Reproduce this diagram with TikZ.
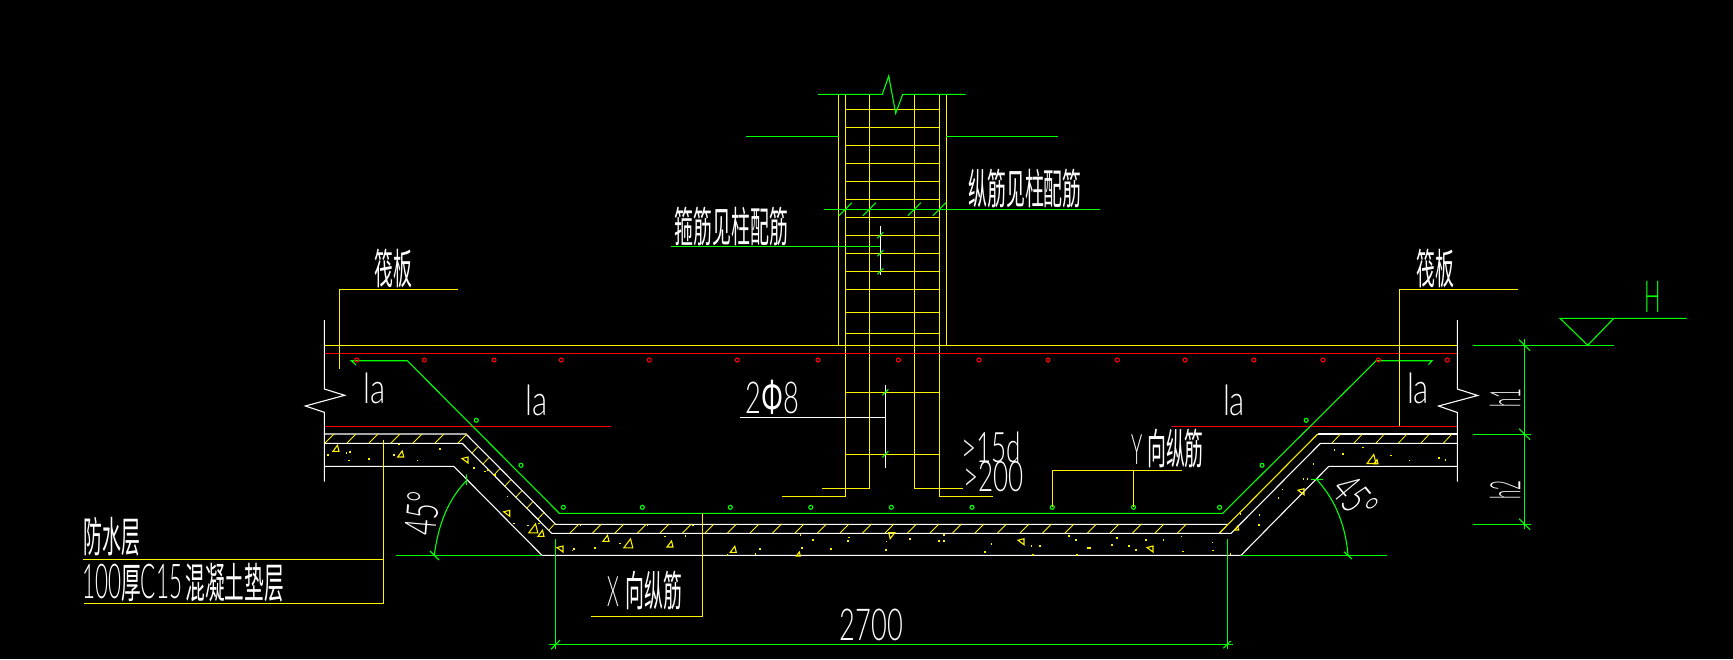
\documentclass[tikz,border=0pt]{standalone}
\usepackage{fontspec}
\newfontfamily\cjk{Noto Sans CJK SC}
\setsansfont{Lato}[UprightFont=* Light]
\tikzset{
  yellowline/.style={yellow,line width=.55pt},
  greenline/.style={green,line width=.55pt},
  whiteline/.style={white,line width=.55pt},
  redline/.style={red,line width=.55pt},
  cnlabel/.style={font=\cjk\fontsize{21}{21}\selectfont,xscale=.45,text=white,inner sep=0pt},
  latinlabel/.style={font=\sffamily\fontsize{#1}{#1}\selectfont,xscale=.62,text=white,inner sep=0pt},
}
\begin{document}
\begin{tikzpicture}[x=.5pt,y=-.5pt]
  \fill[black](0,0)rectangle(1733,659);
  % column
  \draw[yellowline](838.7,94.3)--(838.7,345)(946.3,94.3)--(946.3,345);
  \draw[yellowline](782,496.3)--(845.3,496.3)--(845.3,94.3);
  \draw[yellowline](992.7,496.3)--(939.3,496.3)--(939.3,94.3);
  \draw[yellowline](822,488.3)--(869.3,488.3)--(869.3,94.3);
  \draw[yellowline](962.7,488.3)--(914.3,488.3)--(914.3,94.3);
  \foreach \y in {109.3,127.3,145.3,163.3,181.3,199.3,217.3,235.3,253.3,271.3,289.3,312.3,333.3,392.3,454.3}
    \draw[yellowline](845.3,\y)--(939.3,\y);
  \draw[greenline](818,94.3)--(882.3,94.3)--(888.7,76)--(895.7,113.3)--(902.7,94.3)--(965.7,94.3);
  \draw[greenline](746,136.3)--(838.7,136.3)(946.3,136.3)--(1057.7,136.3);
  \draw[greenline](824,209.3)--(1100,209.3);
  \foreach \x in {845.3,869.3,914.3,939.3}
    \draw[greenline](\x-6.5,209.3+6.5)--(\x+6.5,209.3-6.5);
  \draw[greenline](671,246.3)--(880.3,246.3);
  \draw[whiteline](880.3,226)--(880.3,275);
  \foreach \y in {235.3,253.3,271.3}
    \draw[greenline](880.3-3,\y+3)--(880.3+3,\y-3);
  \draw[whiteline](740,417.3)--(885.3,417.3);
  \draw[whiteline](885.3,385)--(885.3,467.7);
  \foreach \y in {392.3,454.3}
    \draw[greenline](885.3-3,\y+3)--(885.3+3,\y-3);
  % raft
  \draw[yellowline](324.3,345.3)--(1457.3,345.3);
  \draw[redline](324.3,353.3)--(1457.3,353.3);
  \draw[redline](324.3,426.3)--(610.7,426.3)(1171.5,426.3)--(1457.3,426.3);
  \draw[whiteline](324.3,320)--(324.3,389)--(344.7,395.3)--(305.3,406)--(324.3,412.3)--(324.3,481.7);
  \draw[whiteline](1457.3,320)--(1457.3,389)--(1477.7,395.5)--(1438.5,406)--(1457.3,412.5)--(1457.3,481.7);
  % cushion and waterproof layer
  \draw[whiteline](324.3,434)--(466,434)--(555.7,524.3)--(1228,524.3);
  \draw[whiteline](1317.7,434)--(1457.3,434);
  \draw[yellowline](1219.2,533.3)--(1317.7,434);
  \draw[whiteline](324.3,443.3)--(462.3,443.3)--(551.7,533.3)--(1231,533.3)--(1320.4,443.3)--(1457.3,443.3);
  \draw[whiteline](324.3,466.3)--(453.7,466.3)--(542,555.3)--(1241,555.3)--(1328.8,466.3)--(1457.3,466.3);
  \foreach \x in {325,347,369,391,413,435,458,570,592.5,...,1198}
    \draw[yellowline,line width=.4pt](\x,\ifdim\x pt<500pt 443\else 533\fi)--++(9,-9);
  \foreach \x in {1332,1354,1376,1398.5,1421,1443.5}
    \draw[yellowline,line width=.4pt](\x,443)--++(8.5,-9);
  \foreach \i in {0,...,7}
    \draw[yellowline,line width=.4pt](471.7+11*\i,453.3+11*\i)--++(6,-6.5);
  % aggregate
  \foreach \a/\b/\r/\s in {336/448.3/0/3,400.7/454/0/3,465/460/90/3,506.7/513.3/90/3,533.3/528.3/0/4.5,541/533.3/0/3,560/549/90/3,606/538.3/0/3,628.3/543.3/0/4.5,670/544/0/3,733.3/549.3/0/3,798.3/554/0/2,891.7/535.7/180/3,1021/541.7/90/3,1150/549/90/3,1371.5/459/0/4.5,1376/461.7/0/2,1301/491.7/90/3,1236.7/528/0/2}
    \draw[yellowline,rotate around={\r:(\a,\b)}](\a-\s,\b+\s)--(\a+\s,\b+\s)--(\a+.5*\s,\b-\s)--cycle;
  \foreach \a/\b in {142/643,198/637,208/634,205/660,265/655,340/643,355/612,410/660,478/625,580/682,613/693,622/688,643/703,680/767,722/785,742/855,775/848,700/848,875/930,880/925,943/922,1018/908,1153/888,1214/886,900/855,1100/855,1237/855}
    \fill[yellow]({280+\a/3},{240+\b/3})rectangle++(1.2,1.2);
  \foreach \a/\b in {300/583,337/598,445/590,442/601,178/625,165/640,304/622,391/625,558/603,556/628,628/595,715/601,730/601,730/583,873/610,853/634,992/616,1018/616,1105/586,1126/598,1249/592,1234/613,1285/616,1306/628,1336/598,1162/622,1168/622,1129/643,997/643,80/643}
    \fill[yellow]({700+\a/3},{340+\b/3})rectangle++(1.2,1.2);
  \foreach \a/\b in {530/628,552/640,604/620,677/645,725/660,802/652,818/658,475/670,450/715,460/715,395/747,384/772,335/823,285/820,334/853,40/898,86/898,133/888,212/905,14/928,136/933,214/930,260/940}
    \fill[yellow]({1130+\a/2.6},{240+\b/3})rectangle++(1.2,1.2);
  % rebars
  \draw[greenline](356,365)--(351.3,360.7)--(407.3,360.7)--(559.3,513.3)--(1222.7,513.3)--(1376.2,360.7)--(1432,360.7)--(1428.5,364.7);
  \foreach \x in {356.7,424.3,494,561.3,649.3,737.3,818,898.5,979,1048,1117.3,1185,1253.8,1323,1378.5,1447.3}
    \draw[redline](\x,360)circle[radius=2];
  \foreach \x/\y in {476.3/420.3,521/465.3,563.3/507.3,642.3/507.3,730.3/507.3,810.7/507.3,891.3/507.3,972/507.3,1052.3/507.3,1133.5/507.3,1219.6/507.3,1262/465.3,1306.2/420.3}
    \draw[greenline](\x,\y)circle[radius=2];
  % leaders
  \draw[yellowline](457.7,289.3)--(339.3,289.3)--(339.3,368.7);
  \draw[yellowline](1517.7,289.3)--(1399.2,289.3)--(1399.2,425.7);
  \draw[yellowline](83.3,559.3)--(383.3,559.3)(84,603.3)--(383.3,603.3)--(383.3,440);
  \draw[yellowline](1052.3,507)--(1052.3,470.3)--(1181.5,470.3)(1133.5,470.3)--(1133.5,507);
  \draw[yellowline](702.3,513.3)--(702.3,616.3)--(591,616.3);
  % 45 degree marks
  \draw[greenline](396,555.3)--(542,555.3)(1241,555.3)--(1386.5,555.3);
  \draw[greenline](434.3,555)..controls(439,520)and(450,498)..(466.3,480.7);
  \draw[greenline](430,551)--(439,560)(466.3,474.3)--(466.3,485);
  \draw[greenline](1316.5,479.3)..controls(1332,496)and(1345,520)..(1348,555);
  \draw[greenline](1310.8,479.3)--(1323,479.3)(1343.8,551.7)--(1352,559);
  % dimensions
  \draw[greenline](555.3,539)--(555.3,649.3)(1227.3,539)--(1227.3,649.3);
  \draw[greenline](549,644.3)--(1232.7,644.3);
  \draw[greenline](551,649.3)--(560,640)(1223.3,648.3)--(1230.7,641);
  \draw[greenline](1524.6,339.3)--(1524.6,529.3);
  \draw[greenline](1473,345.3)--(1613.8,345.3)(1473,434.3)--(1530.8,434.3)(1473,524.3)--(1530.8,524.3);
  \foreach \y in {345.3,434.3,524.3}
    \draw[greenline](1524.6-5.5,\y-5.5)--(1524.6+5.5,\y+5.5);
  \draw[greenline](1686.5,318.3)--(1560,318.3)--(1587.7,345.3)--(1613.8,318.3);
  % labels
  \node[cnlabel](raftleft)at(393,268){筏板};
  \node[cnlabel](raftright)at(1435.4,268){筏板};
  \node[cnlabel](stirrup)at(731.5,226.5){箍筋见柱配筋};
  \node[cnlabel](longbar)at(1025,188.7){纵筋见柱配筋};
  \node[cnlabel](ybar)at(1167.5,449){{\sffamily Y}\hspace{.25em}向纵筋};
  \node[cnlabel](xbar)at(645,590.5){{\sffamily X}\hspace{.35em}向纵筋};
  \node[cnlabel](waterproof)at(112,536.5){防水层};
  \node[cnlabel,xscale=1.04](cushion)at(183,582.5){{\sffamily\fontsize{24}{24}\selectfont 100}厚{\sffamily\fontsize{24}{24}\selectfont C15}\,混凝土垫层};
  \node[latinlabel=21,xscale=1.2](laone)at(375,388){la};
  \node[latinlabel=21,xscale=1.2](latwo)at(536.5,400){la};
  \node[latinlabel=21,xscale=1.2](lathree)at(1234,400){la};
  \node[latinlabel=21,xscale=1.2](lafour)at(1418,388){la};
  \node[latinlabel=22](twophi)at(772.7,397.7){2{\cjk Φ}8};
  \node[latinlabel=21](fifteend)at(991,447){>15d};
  \node[latinlabel=21](twohundred)at(993.7,476.5){>200};
  \node[latinlabel=22](width)at(871.5,624.5){2700};
  \node[rotate=85,latinlabel=22](angleleft)at(422,513.5){45°};
  \node[rotate=-50,latinlabel=22](angleright)at(1355,498){45°};
  \node[rotate=90,latinlabel=21,xscale=.65](hone)at(1505,398.3){h1};
  \node[rotate=90,latinlabel=21,xscale=.65](htwo)at(1505,490){h2};
  \node[latinlabel=22,xscale=.8,text=green](level)at(1653,296.5){H};
\end{tikzpicture}
\end{document}
